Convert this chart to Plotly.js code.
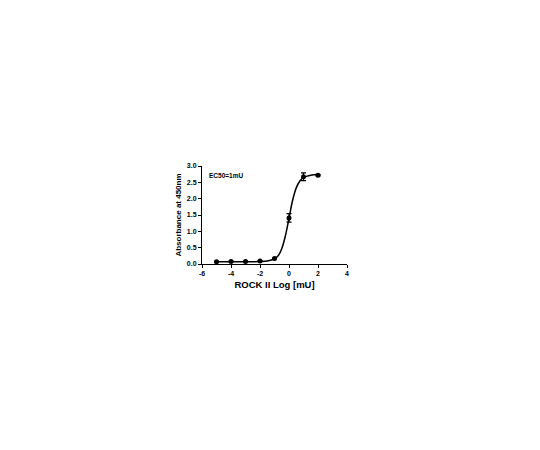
<!DOCTYPE html>
<html>
<head>
<meta charset="utf-8">
<script src="https://cdn.plot.ly/plotly-3.0.1.min.js"></script>
<style>
  html, body { margin: 0; padding: 0; background: #fff; }
  #plot { width: 540px; height: 450px; }
</style>
</head>
<body>
<div id="plot"></div>
<script>
// measured points (log mU) and their SD
var dose_log = [-5, -4, -3, -2, -1, 0, 1, 2];
var absorb = [0.07, 0.08, 0.08, 0.09, 0.17, 1.41, 2.67, 2.72];
var absorb_sd = [0.01, 0.01, 0.01, 0.01, 0.01, 0.13, 0.12, 0.02];

// fitted curve
var fit_x = [-5, -4, -3, -2, -1.5, -1, -0.75, -0.5, -0.25, 0, 0.25, 0.5, 0.75, 1, 1.5, 2];
var fit_y = [0.07, 0.07, 0.07, 0.075, 0.09, 0.16, 0.25, 0.47, 0.86, 1.40, 1.95, 2.33, 2.54, 2.65, 2.72, 2.74];

var xticks = [-6, -4, -2, 0, 2, 4];
var fnt = "Arial, 'Liberation Sans', sans-serif";

var curve = {
  x: fit_x,
  y: fit_y,
  mode: 'lines',
  line: {color: 'black', width: 1.5, shape: 'spline'},
  hoverinfo: 'skip'
};

var pts = {
  x: dose_log,
  y: absorb,
  mode: 'markers',
  marker: {color: 'black', size: 5, symbol: 'circle'},
  error_y: {type: 'data', array: absorb_sd, visible: true, color: 'black', thickness: 1.2, width: 2.5},
  cliponaxis: false
};

var layout = {
  width: 540,
  height: 450,
  margin: {l: 202, r: 193, t: 166, b: 186},
  paper_bgcolor: 'white',
  plot_bgcolor: 'white',
  showlegend: false,
  font: {family: fnt, color: 'black'},
  xaxis: {
    range: [-6, 4],
    tickvals: xticks,
    ticktext: xticks.map(String),
    showgrid: false, zeroline: false,
    showline: true, linecolor: 'black', linewidth: 1,
    ticks: 'outside', ticklen: 3, tickwidth: 1, tickcolor: 'black',
    tickfont: {size: 7, weight: 'bold'},
    title: {text: 'ROCK II Log [mU]', font: {size: 9.5, weight: 'bold'}, standoff: 4}
  },
  yaxis: {
    range: [0, 3],
    dtick: 0.5,
    tickformat: '.1f',
    showgrid: false, zeroline: false,
    showline: true, linecolor: 'black', linewidth: 1,
    ticks: 'outside', ticklen: 3, tickwidth: 1, tickcolor: 'black',
    tickfont: {size: 7, weight: 'bold'},
    title: {text: 'Absorbance at 450nm', font: {size: 8, weight: 'bold'}, standoff: 4}
  },
  annotations: [{
    xref: 'paper', yref: 'paper',
    x: 0.032, y: 0.908,
    xanchor: 'left', yanchor: 'middle',
    text: 'EC50=1mU',
    showarrow: false,
    font: {size: 6.5, weight: 'bold'}
  }]
};

Plotly.newPlot('plot', [curve, pts], layout, {displayModeBar: false, staticPlot: true});
</script>
</body>
</html>
